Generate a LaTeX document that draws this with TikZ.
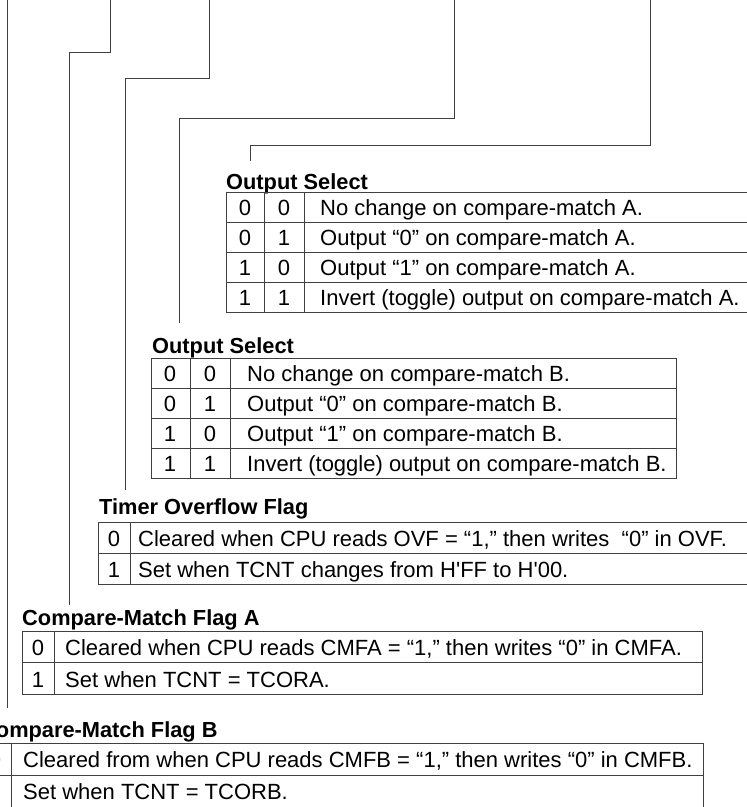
\documentclass[tikz,border=0pt]{standalone}
\usepackage{fontspec}
\setmainfont{Liberation Sans}[Ligatures=TeXOff]
\begin{document}
\begin{tikzpicture}[x=1pt,y=-1pt,
  grid/.style={draw=black!75, line width=0.9pt},
  lead/.style={draw=black!75, line width=0.9pt},
  cell/.style={anchor=base, inner sep=0pt, font=\fontsize{22}{26}\selectfont},
  desc/.style={anchor=base west, inner sep=0pt, font=\fontsize{22}{26}\selectfont},
  ttl/.style={anchor=base west, inner sep=0pt, font=\bfseries\fontsize{21.8}{26}\selectfont}]
\useasboundingbox (0,0) rectangle (747,807);
\clip (0,0) rectangle (747,807);

% leader lines
\coordinate (l1t) at (7,0);   \coordinate (l1b) at (7,708);
\coordinate (l2t) at (110,0); \coordinate (l2k) at (69,52);   \coordinate (l2b) at (69,605);
\coordinate (l3t) at (209,0); \coordinate (l3k) at (125,78);  \coordinate (l3b) at (125,490);
\coordinate (l4t) at (454,0); \coordinate (l4k) at (179,118); \coordinate (l4b) at (179,323);
\coordinate (l5t) at (650,0); \coordinate (l5k) at (250,145); \coordinate (l5b) at (250,161);
\draw[lead] (l1t) -- (l1b);
\draw[lead] (l2t) |- (l2k) -- (l2b);
\draw[lead] (l3t) |- (l3k) -- (l3b);
\draw[lead] (l4t) |- (l4k) -- (l4b);
\draw[lead] (l5t) |- (l5k) -- (l5b);

% Output Select A
\node[ttl] (tA) at (226,189) {Output Select};
\draw[grid] (226,192) rectangle (760,312);
\foreach \y in {222,252,282} \draw[grid] (226,\y) -- (760,\y);
\draw[grid] (264,192) -- (264,312);
\draw[grid] (304,192) -- (304,312);
\node[cell] (a1a) at (245,215) {0}; \node[cell] (a1b) at (284,215) {0};
\node[desc] (a1c) at (320,215) {No change on compare-match A.};
\node[cell] (a2a) at (245,245) {0}; \node[cell] (a2b) at (284,245) {1};
\node[desc] (a2c) at (320,245) {Output “0” on compare-match A.};
\node[cell] (a3a) at (245,275) {1}; \node[cell] (a3b) at (284,275) {0};
\node[desc] (a3c) at (320,275) {Output “1” on compare-match A.};
\node[cell] (a4a) at (245,305) {1}; \node[cell] (a4b) at (284,305) {1};
\node[desc] (a4c) at (320,305) {Invert (toggle) output on compare-match A.};

% Output Select B
\node[ttl] (tB) at (152,353) {Output Select};
\draw[grid] (151,358) rectangle (676,478);
\foreach \y in {388,418,448} \draw[grid] (151,\y) -- (676,\y);
\draw[grid] (190,358) -- (190,478);
\draw[grid] (230,358) -- (230,478);
\node[cell] (b1a) at (170,381) {0}; \node[cell] (b1b) at (210,381) {0};
\node[desc] (b1c) at (247,381) {No change on compare-match B.};
\node[cell] (b2a) at (170,411) {0}; \node[cell] (b2b) at (210,411) {1};
\node[desc] (b2c) at (247,411) {Output “0” on compare-match B.};
\node[cell] (b3a) at (170,441) {1}; \node[cell] (b3b) at (210,441) {0};
\node[desc] (b3c) at (247,441) {Output “1” on compare-match B.};
\node[cell] (b4a) at (170,471) {1}; \node[cell] (b4b) at (210,471) {1};
\node[desc] (b4c) at (247,471) {Invert (toggle) output on compare-match B.};

% Timer Overflow Flag
\node[ttl] (tT) at (99,514) {Timer Overflow Flag};
\draw[grid] (98,522) rectangle (760,584);
\draw[grid] (98,553) -- (760,553);
\draw[grid] (130,522) -- (130,584);
\node[cell] (t1a) at (114,546) {0};
\node[desc] (t1c) at (138,546) {Cleared when CPU reads OVF = “1,” then writes~~“0” in OVF.};
\node[cell] (t2a) at (114,577) {1};
\node[desc] (t2c) at (138,577) {Set when TCNT changes from H'FF to H'00.};

% Compare-Match Flag A
\node[ttl] (tCA) at (22,625) {Compare-Match Flag A};
\draw[grid] (22,631) rectangle (702,694);
\draw[grid] (22,662) -- (702,662);
\draw[grid] (54,631) -- (54,694);
\node[cell] (c1a) at (38,655) {0};
\node[desc] (c1c) at (65,655) {Cleared when CPU reads CMFA = “1,” then writes “0” in CMFA.};
\node[cell] (c2a) at (38,687) {1};
\node[desc] (c2c) at (65,687) {Set when TCNT = TCORA.};

% Compare-Match Flag B
\node[ttl] (tCB) at (-20,737) {Compare-Match Flag B};
\draw[grid] (-21,743) rectangle (703,807);
\draw[grid] (-21,775) -- (703,775);
\draw[grid] (11,743) -- (11,807);
\node[cell] (d1a) at (-5,767) {0};
\node[desc] (d1c) at (23,767) {Cleared from when CPU reads CMFB = “1,” then writes “0” in CMFB.};
\node[cell] (d2a) at (-5,799) {1};
\node[desc] (d2c) at (23,799) {Set when TCNT = TCORB.};
\end{tikzpicture}
\end{document}
